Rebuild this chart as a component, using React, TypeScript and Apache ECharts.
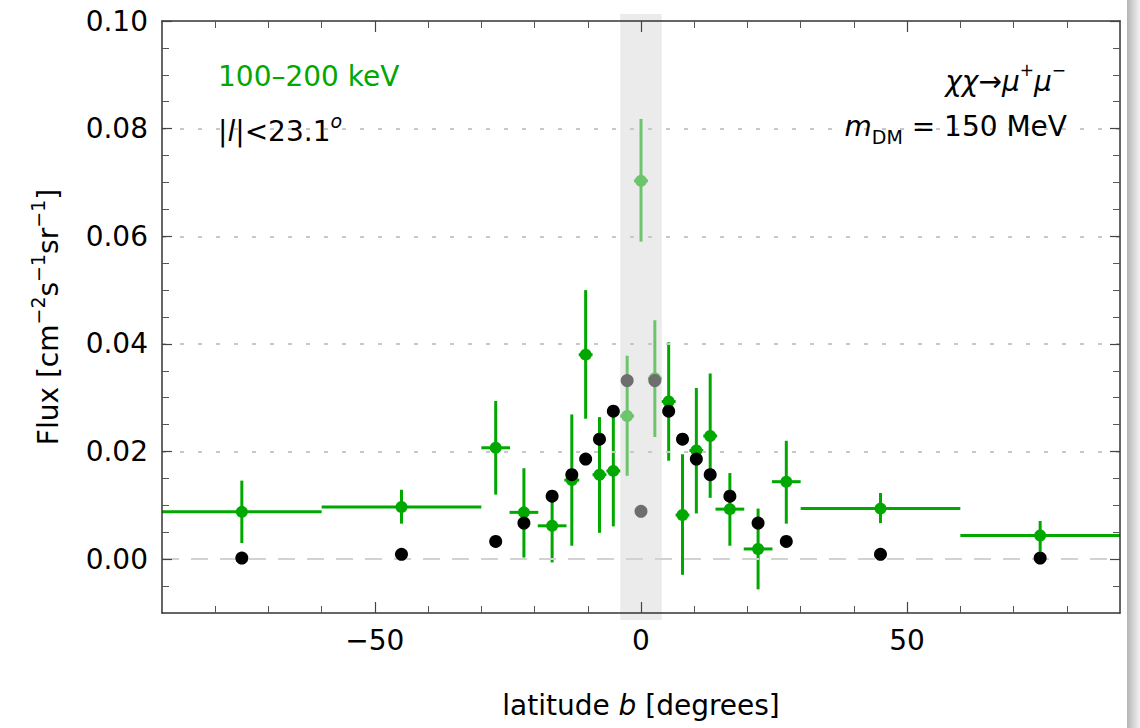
import React, { useEffect, useRef } from "react";
import * as echarts from "echarts";

// ---- data ----
const latitudes = [-75, -45, -27.3, -22, -16.7, -13, -10.4, -7.8, -5.2, -2.6, 0, 2.6, 5.2, 7.8, 10.4, 13, 16.7, 22, 27.3, 45, 75];
const binHalfWidths = [15, 15, 2.7, 2.7, 2.7, 1.4, 1.3, 1.3, 1.3, 1.3, 1.3, 1.3, 1.3, 1.3, 1.3, 1.3, 2.7, 2.7, 2.7, 15, 15];
const fluxData = [0.0088, 0.0097, 0.0207, 0.0087, 0.0062, 0.0147, 0.038, 0.0157, 0.0164, 0.0266, 0.0703, 0.0336, 0.0293, 0.0082, 0.0202, 0.0229, 0.0093, 0.0019, 0.0144, 0.0094, 0.0044];
const fluxLow = [0.003, 0.0066, 0.012, 0.0003, -0.0006, 0.0025, 0.0261, 0.0049, 0.0061, 0.0155, 0.059, 0.0227, 0.0183, -0.0029, 0.0085, 0.0114, 0.0025, -0.0056, 0.0066, 0.0067, 0.0014];
const fluxHigh = [0.0146, 0.0129, 0.0294, 0.0169, 0.0127, 0.0269, 0.05, 0.0264, 0.0265, 0.0378, 0.0818, 0.0444, 0.0403, 0.0195, 0.0318, 0.0345, 0.016, 0.0094, 0.022, 0.0123, 0.0071];
const maskedBins = [false, false, false, false, false, false, false, false, false, true, true, true, false, false, false, false, false, false, false, false, false];
const modelFlux = [0.0002, 0.0009, 0.0033, 0.0067, 0.0117, 0.0157, 0.0186, 0.0223, 0.0275, 0.0332, 0.0089, 0.0332, 0.0275, 0.0223, 0.0186, 0.0157, 0.0117, 0.0067, 0.0033, 0.0009, 0.0002];

const xMin = -90;
const xMax = 90;
const yMin = -0.01;
const yMax = 0.1;
const xTicksMajor = [-50, 0, 50];
const xTicksMinor = [-80, -70, -60, -40, -30, -20, -10, 10, 20, 30, 40, 60, 70, 80];
const yTicksMajor = [0, 0.02, 0.04, 0.06, 0.08, 0.1];
const yTicksMinor = [-0.005, 0.005, 0.01, 0.015, 0.025, 0.03, 0.035, 0.045, 0.05, 0.055, 0.065, 0.07, 0.075, 0.085, 0.09, 0.095];
const gridLinesY = [0.02, 0.04, 0.06, 0.08];
const zeroLineY = [0];
const maskBand = [-3.9, 3.9];

// ---- styles ----
const GREEN = "#00a800";
const LIGHT_GREEN = "#6cc46c";
const BLACK = "#000000";
const GRAY = "#6e6e6e";
const FONT = "'DejaVu Sans', Verdana, sans-serif";
const FS = 28;

export default function App() {
  const ref = useRef<HTMLDivElement>(null);

  useEffect(() => {
    if (!ref.current) return;
    const chart = echarts.init(ref.current, null, { renderer: "svg" });

    const errData = latitudes.map((x, i) => [x, fluxData[i], fluxLow[i], fluxHigh[i], binHalfWidths[i], maskedBins[i] ? 1 : 0]);
    const greenPts = latitudes.map((x, i) => ({
      value: [x, fluxData[i]],
      itemStyle: { color: maskedBins[i] ? LIGHT_GREEN : GREEN, opacity: 1 },
    }));
    const modelPts = latitudes.map((x, i) => ({
      value: [x, modelFlux[i]],
      itemStyle: { color: maskedBins[i] ? GRAY : BLACK, opacity: 1 },
    }));

    const xAxisBase = {
      type: "value",
      min: xMin,
      max: xMax,
      splitLine: { show: false },
      z: 5,
    };
    const yAxisBase = {
      type: "value",
      min: yMin,
      max: yMax,
      splitLine: { show: false },
      z: 5,
    };
    const lineStyleAxis = { color: "#333", width: 1.5 };
    const tickMajor = { color: "#444", width: 1.2 };
    const tickMinor = { color: "#555", width: 1 };

    const fmtX = (v: number) => (v < 0 ? "\u2212" + Math.abs(v) : String(v));

    const option: any = {
      animation: false,
      backgroundColor: "#ffffff",
      grid: { left: 162, right: 20, top: 21, bottom: 115, containLabel: false },
      xAxis: [
        {
          ...xAxisBase,
          position: "bottom",
          axisLine: { show: true, onZero: false, lineStyle: lineStyleAxis },
          axisTick: { show: true, inside: true, length: 11, customValues: xTicksMajor, lineStyle: tickMajor },
          axisLabel: {
            show: true,
            customValues: xTicksMajor,
            formatter: fmtX,
            color: "#000",
            fontSize: FS,
            fontFamily: FONT,
            margin: 13,
          },
          name: "{n|latitude }{i|b}{n| [degrees]}",
          nameLocation: "middle",
          nameGap: 78,
          nameTextStyle: {
            rich: {
              n: { fontSize: FS, fontFamily: FONT, color: "#000" },
              i: { fontSize: FS, fontFamily: FONT, color: "#000", fontStyle: "italic" },
            },
          },
        },
        {
          ...xAxisBase,
          position: "bottom",
          axisLine: { show: false, onZero: false },
          axisTick: { show: true, inside: true, length: 7, customValues: xTicksMinor, lineStyle: tickMinor },
          axisLabel: { show: false },
        },
        {
          ...xAxisBase,
          position: "top",
          axisLine: { show: true, onZero: false, lineStyle: lineStyleAxis },
          axisTick: { show: true, inside: true, length: 11, customValues: xTicksMajor, lineStyle: tickMajor },
          axisLabel: { show: false },
        },
        {
          ...xAxisBase,
          position: "top",
          axisLine: { show: false, onZero: false },
          axisTick: { show: true, inside: true, length: 7, customValues: xTicksMinor, lineStyle: tickMinor },
          axisLabel: { show: false },
        },
      ],
      yAxis: [
        {
          ...yAxisBase,
          position: "left",
          axisLine: { show: true, onZero: false, lineStyle: lineStyleAxis },
          axisTick: { show: true, inside: true, length: 10, customValues: yTicksMajor, lineStyle: tickMajor },
          axisLabel: {
            show: true,
            customValues: yTicksMajor,
            formatter: (v: number) => v.toFixed(2),
            color: "#000",
            fontSize: FS,
            fontFamily: FONT,
            margin: 14,
          },
          name: "{n|Flux [cm}{s|\u22122}{n|s}{s|\u22121}{n|sr}{s|\u22121}{n|]}",
          nameLocation: "middle",
          nameGap: 100,
          nameRotate: 90,
          nameTextStyle: {
            rich: {
              n: { fontSize: FS, fontFamily: FONT, color: "#000", lineHeight: 34, verticalAlign: "bottom" },
              s: { fontSize: 19, fontFamily: FONT, color: "#000", lineHeight: 20, verticalAlign: "top" },
            },
          },
        },
        {
          ...yAxisBase,
          position: "left",
          axisLine: { show: false, onZero: false },
          axisTick: { show: true, inside: true, length: 7, customValues: yTicksMinor, lineStyle: tickMinor },
          axisLabel: { show: false },
        },
        {
          ...yAxisBase,
          position: "right",
          axisLine: { show: true, onZero: false, lineStyle: lineStyleAxis },
          axisTick: { show: true, inside: true, length: 10, customValues: yTicksMajor, lineStyle: tickMajor },
          axisLabel: { show: false },
        },
        {
          ...yAxisBase,
          position: "right",
          axisLine: { show: false, onZero: false },
          axisTick: { show: true, inside: true, length: 7, customValues: yTicksMinor, lineStyle: tickMinor },
          axisLabel: { show: false },
        },
      ],
      series: [
        // mask band
        {
          type: "custom",
          clip: false,
          z: 0,
          silent: true,
          data: [[maskBand[0], maskBand[1]]],
          renderItem: (params: any, api: any) => {
            const p0 = api.coord([api.value(0), yMax]);
            const p1 = api.coord([api.value(1), yMin]);
            return {
              type: "rect",
              shape: { x: p0[0], y: p0[1] - 7, width: p1[0] - p0[0], height: p1[1] - p0[1] + 14 },
              style: { fill: "#ebebeb" },
            };
          },
        },
        // grid lines
        {
          type: "line",
          data: [],
          z: 1,
          markLine: {
            silent: true,
            symbol: "none",
            label: { show: false },
            lineStyle: { color: "#c8c8c8", width: 2, type: [4, 14] },
            data: gridLinesY.map((y) => ({ yAxis: y })),
          },
        },
        {
          type: "line",
          data: [],
          z: 1,
          markLine: {
            silent: true,
            symbol: "none",
            label: { show: false },
            lineStyle: { color: "#d2d2d2", width: 2, type: [17, 12] },
            data: zeroLineY.map((y) => ({ yAxis: y })),
          },
        },
        // error bars
        {
          type: "custom",
          z: 3,
          clip: false,
          data: errData,
          renderItem: (params: any, api: any) => {
            const x = api.value(0);
            const y = api.value(1);
            const lo = api.value(2);
            const hi = api.value(3);
            const hw = api.value(4);
            const masked = api.value(5) === 1;
            const color = masked ? LIGHT_GREEN : GREEN;
            const pLo = api.coord([x, lo]);
            const pHi = api.coord([x, hi]);
            const pL = api.coord([x - hw, y]);
            const pR = api.coord([x + hw, y]);
            return {
              type: "group",
              children: [
                {
                  type: "line",
                  shape: { x1: pLo[0], y1: pLo[1], x2: pHi[0], y2: pHi[1] },
                  style: { stroke: color, lineWidth: 3 },
                },
                {
                  type: "line",
                  shape: { x1: pL[0], y1: pL[1], x2: pR[0], y2: pR[1] },
                  style: { stroke: color, lineWidth: 3 },
                },
              ],
            };
          },
        },
        {
          type: "scatter",
          z: 4,
          symbol: "circle",
          symbolSize: 12,
          itemStyle: { opacity: 1 },
          data: greenPts,
        },
        {
          type: "scatter",
          z: 5,
          symbol: "circle",
          symbolSize: 13,
          itemStyle: { opacity: 1 },
          data: modelPts,
        },
      ],
      graphic: [
        {
          type: "text",
          left: 218,
          top: 62,
          z: 20,
          style: { text: "100\u2013200 keV", fill: GREEN, font: `${FS}px ${FONT}` },
        },
        {
          type: "text",
          left: 218,
          top: 111,
          z: 20,
          style: {
            text: "{n||}{i|l}{n||<23.1}{s|o}",
            rich: {
              n: { fontSize: FS, fontFamily: FONT, fill: "#000", lineHeight: 34, verticalAlign: "bottom" },
              i: { fontSize: FS, fontFamily: FONT, fill: "#000", fontStyle: "italic", lineHeight: 34, verticalAlign: "bottom" },
              s: { fontSize: 19, fontFamily: FONT, fill: "#000", fontStyle: "italic", lineHeight: 20, verticalAlign: "top" },
            },
          },
        },
        {
          type: "text",
          right: 74,
          top: 61,
          z: 20,
          style: {
            text: "{i|\u03c7\u03c7}{n|\u2192}{i|\u03bc}{s|+}{i|\u03bc}{s|\u2212}",
            rich: {
              n: { fontSize: FS, fontFamily: FONT, fill: "#000", lineHeight: 34, verticalAlign: "bottom" },
              i: { fontSize: FS, fontFamily: FONT, fill: "#000", fontStyle: "italic", lineHeight: 34, verticalAlign: "bottom" },
              s: { fontSize: 17, fontFamily: FONT, fill: "#000", lineHeight: 20, verticalAlign: "top" },
            },
          },
        },
        {
          type: "text",
          right: 73,
          top: 112,
          z: 20,
          style: {
            text: "{i|m}{b|DM}{n| = 150 MeV}",
            rich: {
              n: { fontSize: FS, fontFamily: FONT, fill: "#000", lineHeight: 34, verticalAlign: "top" },
              i: { fontSize: FS, fontFamily: FONT, fill: "#000", fontStyle: "italic", lineHeight: 34, verticalAlign: "top" },
              b: { fontSize: 19, fontFamily: FONT, fill: "#000", lineHeight: 20, verticalAlign: "bottom" },
            },
          },
        },
        {
          type: "rect",
          right: 0,
          top: 0,
          z: 20,
          shape: { width: 13, height: 728 },
          style: {
            fill: new echarts.graphic.LinearGradient(0, 0, 1, 0, [
              { offset: 0, color: "#b4b4b4" },
              { offset: 0.4, color: "#cfcfcf" },
              { offset: 1, color: "#f2f2f2" },
            ]),
          },
          silent: true,
        },
      ],
    };

    chart.setOption(option);
    return () => chart.dispose();
  }, []);

  return (
    <div
      ref={ref}
      style={{ position: "fixed", left: 0, top: 0, width: 1140, height: 728, background: "#fff" }}
    />
  );
}
